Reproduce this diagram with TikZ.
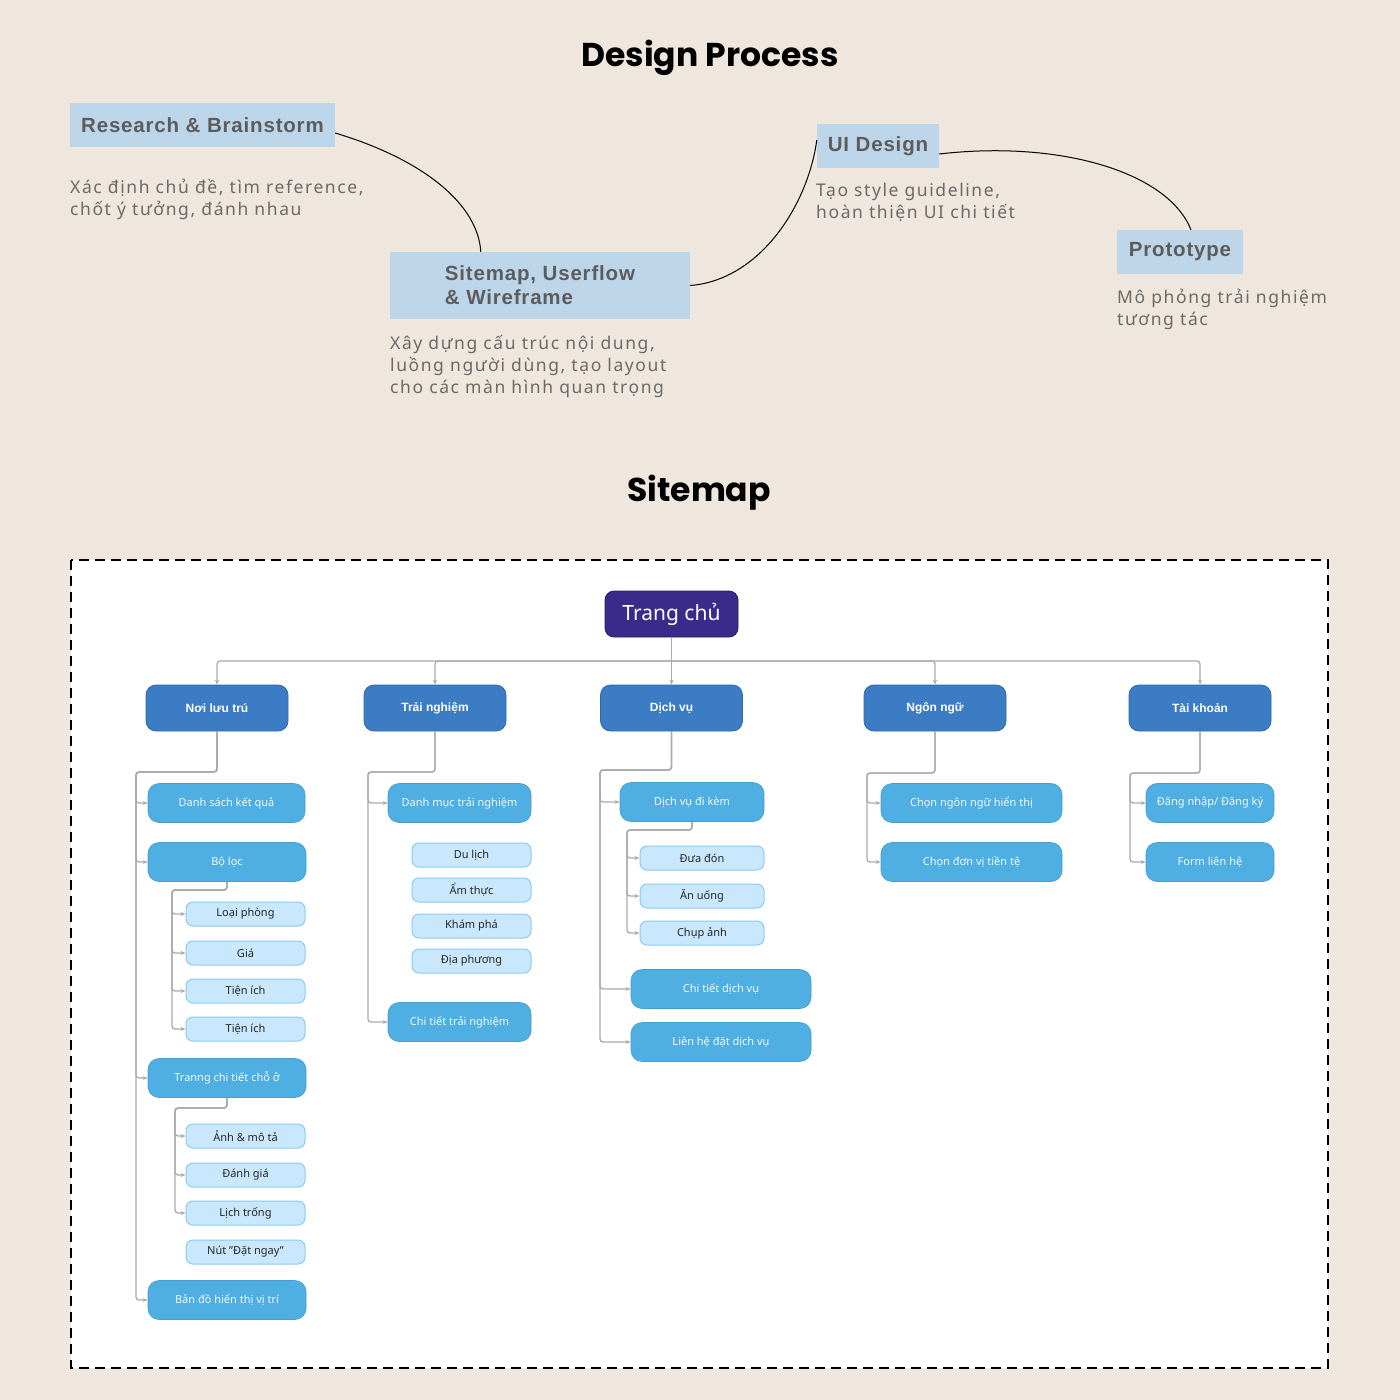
\documentclass[tikz,border=0pt]{standalone}
\usepackage{fontspec}
\setmainfont{Noto Sans}
\newfontfamily\titlefont{Poppins}
\newfontfamily\headfont{Liberation Sans}
\usetikzlibrary{arrows.meta}
\definecolor{bgc}{HTML}{EFE6DD}
\definecolor{procblue}{HTML}{BDD5E8}
\definecolor{headtext}{HTML}{5C5C5C}
\definecolor{desctext}{HTML}{6A6A6A}
\definecolor{homec}{HTML}{3A2A8A}
\definecolor{dblue}{HTML}{3B7CC4}
\definecolor{mblue}{HTML}{4FAEE2}
\definecolor{lbfill}{HTML}{C9E7FD}
\definecolor{lbdraw}{HTML}{8CCBF3}
\definecolor{linegray}{HTML}{ABABAB}
\tikzset{
  procbox/.style={fill=procblue, text=headtext, font=\headfont\bfseries\fontsize{20.5}{24}\selectfont\addfontfeatures{LetterSpace=4}, inner sep=0pt, align=left},
  desc/.style={anchor=base west, inner sep=0pt, text=desctext, font=\fontsize{17.5}{22}\selectfont\addfontfeatures{LetterSpace=9}, align=left},
  ttl/.style={font=\titlefont\bfseries\fontsize{33}{38}\selectfont, text=black},
  curve/.style={draw=black, line width=1pt},
  homebox/.style={fill=homec, draw=homec!70!black, line width=0.8pt, rounded corners=9pt, minimum width=133pt, minimum height=46pt, text=white, font=\fontsize{21}{24}\selectfont},
  lone/.style={fill=dblue, draw=dblue!85!black, line width=0.8pt, rounded corners=10pt, minimum width=142pt, minimum height=46pt, text=white, font=\headfont\bfseries\fontsize{12}{14}\selectfont},
  ltwo/.style={fill=mblue, draw=mblue!90!black, line width=0.6pt, rounded corners=11pt, minimum height=39pt, inner sep=0pt, text=white!92!mblue, font=\fontsize{11}{13}\selectfont},
  lthree/.style={fill=lbfill, draw=lbdraw, line width=1pt, rounded corners=7pt, minimum width=119pt, minimum height=24pt, inner sep=0pt, text=black!85, font=\fontsize{11}{13}\selectfont},
  conn/.style={draw=linegray, line width=1.3pt, rounded corners=3pt, -{Stealth[length=5pt,width=4pt]}},
  plain/.style={draw=linegray, line width=1.3pt, rounded corners=3pt}
}
\begin{document}
\begin{tikzpicture}[x=1pt, y=-1pt]
\useasboundingbox (0,0) rectangle (1400,1400);
\fill[bgc] (0,0) rectangle (1400,1400);

% ---------- Design process ----------
\node[ttl] (t1) at (710,58) {Design Process};

\node[procbox, minimum width=265pt, minimum height=44pt] (rb) at (202.5,125) {Research \& Brainstorm};
\node[procbox, minimum width=300pt, minimum height=67pt] (smb) at (540,285.5) {Sitemap, Userflow\\\& Wireframe};
\node[procbox, minimum width=122pt, minimum height=44pt] (ui) at (878,146) {UI Design};
\node[procbox, minimum width=126pt, minimum height=44pt] (pr) at (1180,252) {Prototype};

\node[desc] (d1) at (70,215) {Xác định chủ đề, tìm reference,\\chốt ý tưởng, đánh nhau};
\node[desc] (d2) at (390,393) {Xây dựng cấu trúc nội dung,\\luồng người dùng, tạo layout\\cho các màn hình quan trọng};
\node[desc] (d3) at (816,218) {Tạo style guideline,\\hoàn thiện UI chi tiết};
\node[desc] (d4) at (1117,325) {Mô phỏng trải nghiệm\\tương tác};

\draw[curve] ([yshift=-8pt]rb.east) .. controls (425,160) and (478,205) .. ([xshift=91pt]smb.north west);
\draw[curve] (smb.east) .. controls (760,280) and (808,205) .. ([yshift=6pt]ui.west);
\draw[curve] ([yshift=-8pt]ui.east) .. controls (1060,140) and (1168,172) .. ([xshift=11pt]pr.north);

% ---------- Sitemap ----------
\node[ttl] (t2) at (699,493) {Sitemap};
\draw[fill=white, draw=black, line width=1.8pt, dash pattern=on 10pt off 6pt] (71,560) rectangle (1328,1368);

\node[homebox] (home) at (671.5,614) {Trang chủ};

\node[lone] (la) at (217,708) {Nơi lưu trú};
\node[lone] (lb) at (435,708) {Trải nghiệm};
\node[lone] (lc) at (671.5,708) {Dịch vụ};
\node[lone] (ld) at (935,708) {Ngôn ngữ};
\node[lone] (le) at (1200,708) {Tài khoản};

\coordinate (hub) at (671.5,661);
\draw[plain] (home.south) -- (hub);
\draw[conn] (hub) -| (la.north);
\draw[conn] (hub) -| (lb.north);
\draw[conn] (hub) -- (lc.north);
\draw[conn] (hub) -| (ld.north);
\draw[conn] (hub) -| (le.north);

% column 1
\node[ltwo, minimum width=157pt] (a1) at (226.5,803) {Danh sách kết quả};
\node[ltwo, minimum width=158pt] (a2) at (227,862) {Bộ lọc};
\node[lthree] (a21) at (245.5,914) {Loại phòng};
\node[lthree] (a22) at (245.5,953) {Giá};
\node[lthree] (a23) at (245.5,991) {Tiện ích};
\node[lthree] (a24) at (245.5,1029) {Tiện ích};
\node[ltwo, minimum width=158pt] (a3) at (227,1078) {Tranng chi tiết chỗ ở};
\node[lthree] (a31) at (245.5,1136) {Ảnh \& mô tả};
\node[lthree] (a32) at (245.5,1175) {Đánh giá};
\node[lthree] (a33) at (245.5,1213) {Lịch trống};
\node[lthree] (a34) at (245.5,1252) {Nút "Đặt ngay"};
\node[ltwo, minimum width=158pt] (a4) at (227,1300) {Bản đồ hiển thị vị trí};

\coordinate (s1) at (136,772);
\foreach \c in {a1,a2,a3,a4} \draw[conn] (la.south) |- (s1) |- (\c.west);
\coordinate (s1b) at (172,890);
\foreach \c in {a21,a22,a23,a24} \draw[conn] (a2.south) |- (s1b) |- (\c.west);
\coordinate (s1c) at (175,1108);
\foreach \c in {a31,a32,a33} \draw[conn] (a3.south) |- (s1c) |- (\c.west);

% column 2
\node[ltwo, minimum width=143pt] (b1) at (459.5,803) {Danh mục trải nghiệm};
\node[lthree] (b11) at (471.5,855) {Du lịch};
\node[lthree] (b12) at (471.5,890) {Ẩm thực};
\node[lthree] (b13) at (471.5,926) {Khám phá};
\node[lthree] (b14) at (471.5,961) {Địa phương};
\node[ltwo, minimum width=143pt] (b2) at (459.5,1022) {Chi tiết trải nghiệm};
\coordinate (s2) at (368,772);
\foreach \c in {b1,b2} \draw[conn] (lb.south) |- (s2) |- (\c.west);

% column 3
\node[ltwo, minimum width=144pt] (c1) at (692,802) {Dịch vụ đi kèm};
\node[lthree, minimum width=124pt] (c11) at (702,858) {Đưa đón};
\node[lthree, minimum width=124pt] (c12) at (702,896) {Ăn uống};
\node[lthree, minimum width=124pt] (c13) at (702,933) {Chụp ảnh};
\node[ltwo, minimum width=180pt] (c2) at (721,989) {Chi tiết dịch vụ};
\node[ltwo, minimum width=180pt] (c3) at (721,1042) {Liên hệ đặt dịch vụ};
\coordinate (s3) at (600,770);
\foreach \c in {c1,c2,c3} \draw[conn] (lc.south) |- (s3) |- (\c.west);
\coordinate (s3b) at (627,830);
\foreach \c in {c11,c12,c13} \draw[conn] (c1.south) |- (s3b) |- (\c.west);

% column 4
\node[ltwo, minimum width=181pt] (d1n) at (971.5,803) {Chọn ngôn ngữ hiển thị};
\node[ltwo, minimum width=181pt] (d2n) at (971.5,862) {Chọn đơn vị tiền tệ};
\coordinate (s4) at (867,773);
\foreach \c in {d1n,d2n} \draw[conn] (ld.south) |- (s4) |- (\c.west);

% column 5
\node[ltwo, minimum width=128pt] (e1) at (1210,803) {Đăng nhập/ Đăng ký};
\node[ltwo, minimum width=128pt] (e2) at (1210,862) {Form liên hệ};
\coordinate (s5) at (1130,773);
\foreach \c in {e1,e2} \draw[conn] (le.south) |- (s5) |- (\c.west);
\end{tikzpicture}
\end{document}
